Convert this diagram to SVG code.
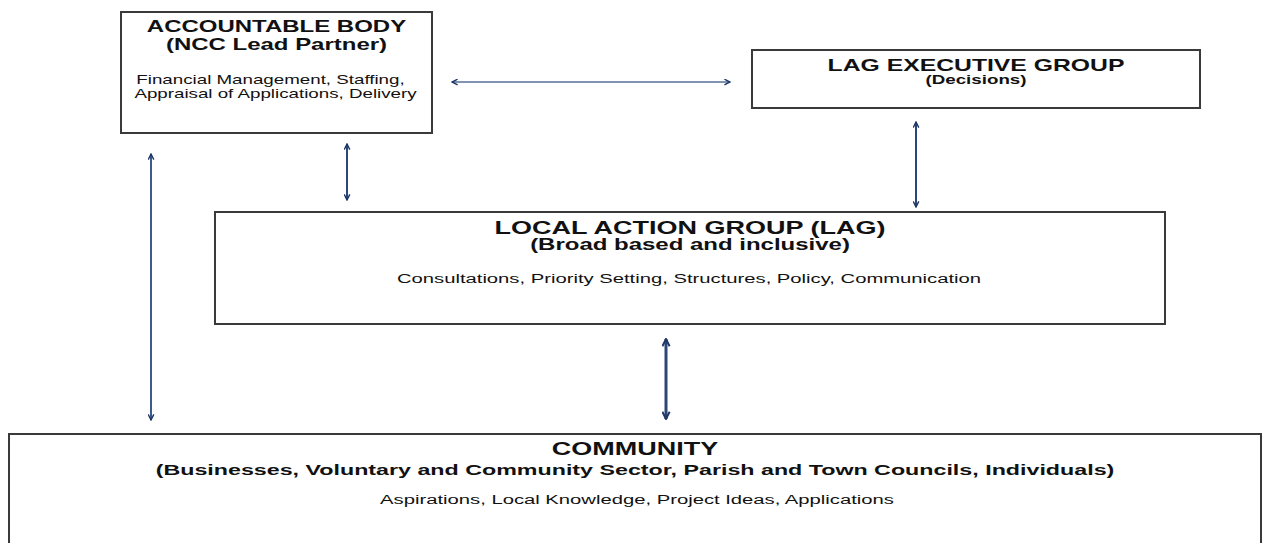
<svg xmlns="http://www.w3.org/2000/svg" width="1264" height="543" viewBox="0 0 1264 543">
<style>
.box{fill:#fff;stroke:#3a3a3a;stroke-width:2}
text{font-family:"Liberation Sans",Arial,sans-serif;fill:#111;text-anchor:middle}
.b{font-weight:bold}
.c{stroke:#2c4677;stroke-width:2;fill:none}
</style>
<defs>
<marker id="ah" viewBox="0 0 10 10" refX="9" refY="5" markerWidth="7" markerHeight="7" markerUnits="userSpaceOnUse" orient="auto-start-reverse">
<path d="M1,1 L9,5 L1,9" fill="none" stroke="#1f3766" stroke-width="2"/>
</marker>
<marker id="ah2" viewBox="0 0 10 10" refX="9" refY="5" markerWidth="9" markerHeight="9" markerUnits="userSpaceOnUse" orient="auto-start-reverse">
<path d="M1,1 L9,5 L1,9" fill="none" stroke="#1f3766" stroke-width="2.2"/>
</marker>
</defs>
<g id="accountable-body">
<rect class="box" x="121" y="12" width="311" height="121"/>
<text class="b" font-size="16" transform="translate(276.5,32) scale(1.5,1)">ACCOUNTABLE BODY</text>
<text class="b" font-size="16" transform="translate(276.5,50) scale(1.5,1)">(NCC Lead Partner)</text>
<text font-size="12.5" transform="translate(270.5,84) scale(1.5,1)">Financial Management, Staffing,</text>
<text font-size="12.5" transform="translate(275.5,98) scale(1.5,1)">Appraisal of Applications, Delivery</text>
</g>
<g id="lag-executive">
<rect class="box" x="752" y="50" width="448" height="58"/>
<text class="b" font-size="16.5" transform="translate(976,71) scale(1.5,1)">LAG EXECUTIVE GROUP</text>
<text class="b" font-size="12.5" transform="translate(976,84) scale(1.5,1)">(Decisions)</text>
</g>
<g id="local-action-group">
<rect class="box" x="215" y="212" width="950" height="112"/>
<text class="b" font-size="18" transform="translate(690,234) scale(1.5,1)">LOCAL ACTION GROUP (LAG)</text>
<text class="b" font-size="16" transform="translate(690,250) scale(1.5,1)">(Broad based and inclusive)</text>
<text font-size="13.5" transform="translate(689,283) scale(1.5,1)">Consultations, Priority Setting, Structures, Policy, Communication</text>
</g>
<g id="community">
<rect class="box" x="9" y="434" width="1252" height="125"/>
<text class="b" font-size="18" transform="translate(635,455) scale(1.5,1)">COMMUNITY</text>
<text class="b" font-size="15.5" transform="translate(635,475) scale(1.5,1)">(Businesses, Voluntary and Community Sector, Parish and Town Councils, Individuals)</text>
<text font-size="13.5" transform="translate(637,504) scale(1.5,1)">Aspirations, Local Knowledge, Project Ideas, Applications</text>
</g>
<g id="connectors">
<line class="c" x1="452" y1="82" x2="730" y2="82" marker-start="url(#ah)" marker-end="url(#ah)" style="stroke:#7f93b3"/>
<line class="c" x1="151" y1="154" x2="151" y2="420" marker-start="url(#ah)" marker-end="url(#ah)" style="stroke:#3a5a8c"/>
<line class="c" x1="347" y1="144" x2="347" y2="200" marker-start="url(#ah)" marker-end="url(#ah)"/>
<line class="c" x1="916" y1="122" x2="916" y2="207" marker-start="url(#ah)" marker-end="url(#ah)"/>
<line class="c" x1="666" y1="339" x2="666" y2="419" style="stroke-width:3" marker-start="url(#ah2)" marker-end="url(#ah2)"/>
</g>
</svg>
